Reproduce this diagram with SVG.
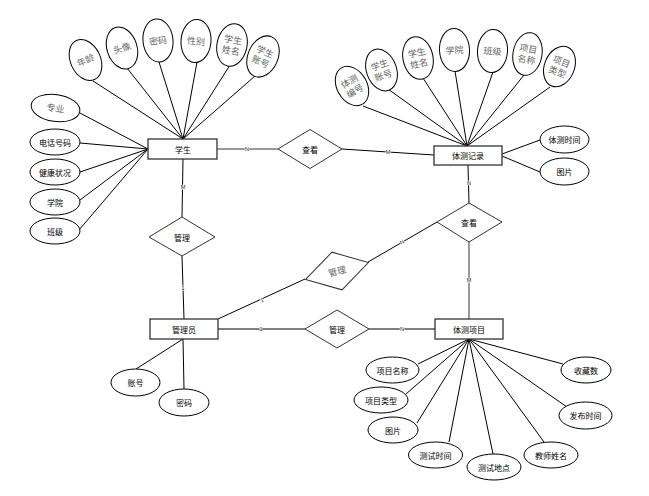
<svg xmlns="http://www.w3.org/2000/svg" width="649" height="496" viewBox="0 0 649 496">
<style>
.e{fill:#fff;stroke:#000;stroke-width:1}
.r{fill:#fff;stroke:#333;stroke-width:1.3}
.d{fill:#fff;stroke:#333;stroke-width:1}
.t{font-family:"Noto Sans CJK SC","Liberation Sans",sans-serif;font-size:8px;fill:#000;text-anchor:middle;dominant-baseline:central}
.g{font-family:"Noto Sans CJK SC","Liberation Sans",sans-serif;font-size:9px;fill:#666;text-anchor:middle;dominant-baseline:central}
.l{stroke:#000;stroke-width:1;fill:none}
.lg{stroke:#777;stroke-width:1.5;fill:none}
.m{font-family:"Liberation Sans",sans-serif;font-size:5.5px;fill:#222;text-anchor:middle;dominant-baseline:central;stroke:#fff;stroke-width:1.2;paint-order:stroke}
</style>
<rect width="649" height="496" fill="#fff"/>
<g id="connectors">
<line class="l" x1="93" y1="81" x2="183" y2="139"/>
<line class="l" x1="127" y1="68" x2="183" y2="139"/>
<line class="l" x1="159" y1="62" x2="183" y2="139"/>
<line class="l" x1="197" y1="62" x2="183" y2="139"/>
<line class="l" x1="230" y1="65" x2="183" y2="139"/>
<line class="l" x1="255" y1="76" x2="183" y2="139"/>
<line class="l" x1="80" y1="113" x2="148" y2="149"/>
<line class="l" x1="80" y1="143" x2="148" y2="149"/>
<line class="l" x1="80" y1="172" x2="148" y2="149"/>
<line class="l" x1="80" y1="200" x2="148" y2="149"/>
<line class="l" x1="79" y1="230" x2="148" y2="149"/>
<line class="l" x1="363" y1="106" x2="467" y2="146"/>
<line class="l" x1="388" y1="89" x2="467" y2="146"/>
<line class="l" x1="423" y1="78" x2="467" y2="146"/>
<line class="l" x1="455" y1="71" x2="467" y2="146"/>
<line class="l" x1="493" y1="72" x2="467" y2="146"/>
<line class="l" x1="524" y1="75" x2="467" y2="146"/>
<line class="l" x1="550" y1="87" x2="467" y2="146"/>
<line class="l" x1="502" y1="154" x2="540" y2="140"/>
<line class="l" x1="502" y1="156" x2="540" y2="172"/>
<line class="lg" x1="217" y1="149" x2="278" y2="149"/>
<line class="l" x1="342" y1="149" x2="434" y2="155"/>
<line class="l" x1="183" y1="159" x2="182" y2="217"/>
<line class="l" x1="182" y1="256" x2="184" y2="319"/>
<line class="l" x1="218" y1="319" x2="305" y2="279"/>
<line class="l" x1="368" y1="262" x2="437" y2="222"/>
<line class="l" x1="468" y1="165" x2="469" y2="203"/>
<line class="lg" x1="469" y1="242" x2="469" y2="319"/>
<line class="l" x1="218" y1="329" x2="305" y2="329"/>
<line class="l" x1="369" y1="329" x2="435" y2="329"/>
<line class="l" x1="183" y1="339" x2="136" y2="369"/>
<line class="l" x1="183" y1="339" x2="184" y2="389"/>
<line class="l" x1="469" y1="339" x2="418" y2="364"/>
<line class="l" x1="469" y1="339" x2="406" y2="394"/>
<line class="l" x1="469" y1="339" x2="417" y2="423"/>
<line class="l" x1="469" y1="339" x2="449" y2="442"/>
<line class="l" x1="469" y1="339" x2="493" y2="454"/>
<line class="l" x1="469" y1="339" x2="544" y2="442"/>
<line class="l" x1="469" y1="339" x2="567" y2="407"/>
<line class="l" x1="469" y1="339" x2="563" y2="364"/>
<text class="m" x="247" y="149">N</text>
<text class="m" x="388" y="152">M</text>
<text class="m" x="183" y="187">M</text>
<text class="m" x="183" y="288">1</text>
<text class="m" x="262" y="300" transform="rotate(-25 262 300)">1</text>
<text class="m" x="402" y="242" transform="rotate(-30 402 242)">N</text>
<text class="m" x="469" y="183">N</text>
<text class="m" x="469" y="280">M</text>
<text class="m" x="261" y="329">1</text>
<text class="m" x="402" y="329">N</text>
</g>
<g id="student"><rect class="r" x="148" y="139" width="69" height="20"/><text class="t" x="183" y="149">学生</text></g>
<g id="record"><rect class="r" x="434" y="146" width="68" height="19"/><text class="t" x="468" y="155.5">体测记录</text></g>
<g id="admin"><rect class="r" x="150" y="319" width="68" height="20"/><text class="t" x="184" y="329">管理员</text></g>
<g id="item"><rect class="r" x="435" y="319" width="68" height="20"/><text class="t" x="469" y="329">体测项目</text></g>
<g id="rel-view1"><polygon class="d" points="278,149 310,129.5 342,149 310,168.5"/><text class="t" x="310" y="149">查看</text></g>
<g id="rel-manage1"><polygon class="d" points="149,237 182,217 215,237 182,256"/><text class="t" x="182" y="237">管理</text></g>
<g id="rel-manage2" transform="translate(337 271) rotate(-15)"><polygon class="d" points="-32.5,0 0,-19.5 32.5,0 0,19.5"/><text class="g" x="0" y="0">管理</text></g>
<g id="rel-view2"><polygon class="d" points="437,222 469,203 502,222 469,242"/><text class="t" x="469" y="222">查看</text></g>
<g id="rel-manage3"><polygon class="d" points="305,329 337,310 369,329 337,348"/><text class="t" x="337" y="329">管理</text></g>
<g id="a-age" transform="translate(85.5 60) rotate(-25)"><ellipse class="e" rx="15" ry="21.5"/><text class="g">年龄</text></g>
<g id="a-avatar" transform="translate(122 48) rotate(-18)"><ellipse class="e" rx="15" ry="21.5"/><text class="g">头像</text></g>
<g id="a-pwd" transform="translate(158 40.5) rotate(-6)"><ellipse class="e" rx="15" ry="21.5"/><text class="g">密码</text></g>
<g id="a-sex" transform="translate(196 41) rotate(4)"><ellipse class="e" rx="15" ry="21.5"/><text class="g">性别</text></g>
<g id="a-sname" transform="translate(232 45) rotate(12)"><ellipse class="e" rx="15" ry="21.5"/><text class="g" y="-5.5">学生</text><text class="g" y="5.5">姓名</text></g>
<g id="a-sacc" transform="translate(263 56.5) rotate(24)"><ellipse class="e" rx="15" ry="21.5"/><text class="g" y="-5.5">学生</text><text class="g" y="5.5">账号</text></g>
<g id="a-major" transform="translate(55.5 108) rotate(8)"><ellipse class="e" rx="24.5" ry="13.5"/><text class="g">专业</text></g>
<g id="a-phone"><ellipse class="e" cx="55" cy="142" rx="25" ry="13"/><text class="t" x="55" y="142">电话号码</text></g>
<g id="a-health"><ellipse class="e" cx="55" cy="172" rx="25" ry="13"/><text class="t" x="55" y="172">健康状况</text></g>
<g id="a-college"><ellipse class="e" cx="55" cy="202" rx="25" ry="13"/><text class="t" x="55" y="202">学院</text></g>
<g id="a-class"><ellipse class="e" cx="55" cy="231" rx="25" ry="13"/><text class="t" x="55" y="231">班级</text></g>
<g id="r-no" transform="translate(352 86) rotate(-30)"><ellipse class="e" rx="15" ry="21"/><text class="g" y="-5.5">体测</text><text class="g" y="5.5">编号</text></g>
<g id="r-sacc" transform="translate(381.5 70) rotate(-20)"><ellipse class="e" rx="15" ry="21.5"/><text class="g" y="-5.5">学生</text><text class="g" y="5.5">账号</text></g>
<g id="r-sname" transform="translate(418 58) rotate(-12)"><ellipse class="e" rx="15" ry="21.5"/><text class="g" y="-5.5">学生</text><text class="g" y="5.5">姓名</text></g>
<g id="r-college" transform="translate(454.5 50) rotate(-3)"><ellipse class="e" rx="15" ry="21.5"/><text class="g">学院</text></g>
<g id="r-class" transform="translate(492.5 51) rotate(4)"><ellipse class="e" rx="15" ry="21.5"/><text class="g">班级</text></g>
<g id="r-iname" transform="translate(527.5 54) rotate(10)"><ellipse class="e" rx="14.5" ry="21.5"/><text class="g" y="-5.5">项目</text><text class="g" y="5.5">名称</text></g>
<g id="r-itype" transform="translate(559.5 66.5) rotate(22)"><ellipse class="e" rx="15" ry="21"/><text class="g" y="-5.5">项目</text><text class="g" y="5.5">类型</text></g>
<g id="r-time"><ellipse class="e" cx="564.5" cy="139.5" rx="24.5" ry="13.5"/><text class="t" x="564.5" y="139.5">体测时间</text></g>
<g id="r-pic"><ellipse class="e" cx="564.5" cy="171.5" rx="24.5" ry="13.5"/><text class="t" x="564.5" y="171.5">图片</text></g>
<g id="m-acc"><ellipse class="e" cx="135.5" cy="382.5" rx="24.5" ry="13.5"/><text class="t" x="135.5" y="382.5">账号</text></g>
<g id="m-pwd"><ellipse class="e" cx="184" cy="402.5" rx="25" ry="13.5"/><text class="t" x="184" y="402.5">密码</text></g>
<g id="i-name"><ellipse class="e" cx="392.5" cy="370" rx="26.5" ry="13"/><text class="t" x="392.5" y="370">项目名称</text></g>
<g id="i-type"><ellipse class="e" cx="381" cy="400" rx="27" ry="13"/><text class="t" x="381" y="400">项目类型</text></g>
<g id="i-pic"><ellipse class="e" cx="393" cy="430" rx="25" ry="13"/><text class="t" x="393" y="430">图片</text></g>
<g id="i-ttime"><ellipse class="e" cx="435.5" cy="455" rx="27" ry="13"/><text class="t" x="435.5" y="455">测试时间</text></g>
<g id="i-place"><ellipse class="e" cx="494" cy="467" rx="27" ry="13"/><text class="t" x="494" y="467">测试地点</text></g>
<g id="i-teacher"><ellipse class="e" cx="551" cy="455" rx="27" ry="13"/><text class="t" x="551" y="455">教师姓名</text></g>
<g id="i-ptime"><ellipse class="e" cx="585.5" cy="415.5" rx="26.5" ry="13.5"/><text class="t" x="585.5" y="415.5">发布时间</text></g>
<g id="i-fav"><ellipse class="e" cx="586" cy="370" rx="25" ry="13"/><text class="t" x="586" y="370">收藏数</text></g>
</svg>
